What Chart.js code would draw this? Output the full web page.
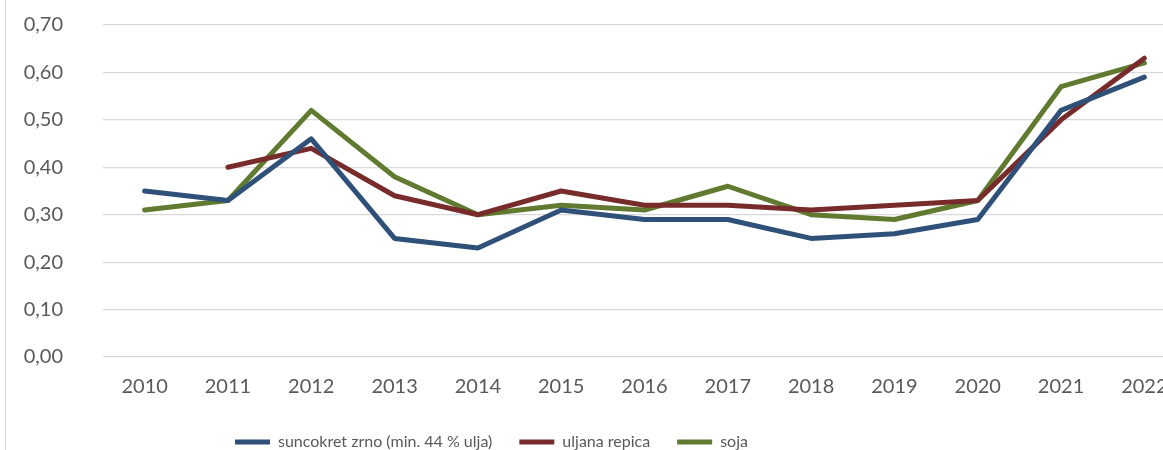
<!DOCTYPE html>
<html>
<head>
<meta charset="utf-8">
<script src="https://cdn.jsdelivr.net/npm/chart.js@4/dist/chart.umd.min.js"></script>
<style>
  html, body { margin: 0; padding: 0; background: #fff; }
  #frame { position: relative; width: 1163px; height: 450px; overflow: hidden; }
  #edge { position: absolute; left: 5px; top: 0; width: 1px; height: 450px; background: #d9d9d9; }
  #chart { position: absolute; left: 0; top: 0; }
</style>
</head>
<body>
<div id="frame">
  <canvas id="chart" width="1186" height="460"></canvas>
  <div id="edge"></div>
</div>
<script>
// years on the x axis
const years = ['2010', '2011', '2012', '2013', '2014', '2015', '2016',
               '2017', '2018', '2019', '2020', '2021', '2022'];

// series values
const suncokret = [0.35, 0.33, 0.46, 0.25, 0.23, 0.31, 0.29, 0.29, 0.25, 0.26, 0.29, 0.52, 0.59];
const repica = [null, 0.40, 0.44, 0.34, 0.30, 0.35, 0.32, 0.32, 0.31, 0.32, 0.33, 0.50, 0.63];
const soja = [0.31, 0.33, 0.52, 0.38, 0.30, 0.32, 0.31, 0.36, 0.30, 0.29, 0.33, 0.57, 0.62];

const seriesNames = ['suncokret zrno (min. 44 % ulja)', 'uljana repica', 'soja'];
const seriesColors = ['#2f5079', '#772b2a', '#607a2f'];

const TEXT = '#595959';
const FONT = 'Lato, "Liberation Sans", Arial, sans-serif';

function line(name, data, color) {
    return {
        label: name,
        data: data,
        borderColor: color,
        backgroundColor: color,
        borderWidth: 5,
        borderCapStyle: 'round',
        borderJoinStyle: 'round',
        pointRadius: 0,
        pointHoverRadius: 0,
        tension: 0,
        fill: false
    };
}

// move the legend so it starts where the reference one does
const legendShift = {
    id: 'legendShift',
    afterLayout(chart) {
        if (chart.legend) chart.legend.left = 208;
    }
};

new Chart(document.getElementById('chart').getContext('2d'), {
    type: 'line',
    data: {
        labels: years,
        datasets: [
            line(seriesNames[0], suncokret, seriesColors[0]),
            line(seriesNames[1], repica, seriesColors[1]),
            line(seriesNames[2], soja, seriesColors[2])
        ]
    },
    options: {
        responsive: false,
        animation: false,
        layout: { padding: { top: 25, left: 0, right: 0, bottom: 0 } },
        plugins: {
            tooltip: { enabled: false },
            legend: {
                position: 'bottom',
                align: 'start',
                labels: {
                    usePointStyle: true,
                    pointStyle: 'line',
                    pointStyleWidth: 35,
                    padding: 27,
                    color: TEXT,
                    font: { family: FONT, size: 16 }
                }
            }
        },
        scales: {
            x: {
                offset: true,
                grid: { display: false },
                border: { display: false },
                ticks: {
                    color: TEXT,
                    padding: 10,
                    maxRotation: 0,
                    font: { family: FONT, size: 20 }
                },
                afterFit(scale) { scale.height = 50; }
            },
            y: {
                min: 0,
                max: 0.7,
                border: { display: false },
                // invisible tick marks push the labels away from the plot
                grid: { color: '#d9d9d9', lineWidth: 1.2, drawTicks: true, tickLength: 38, tickColor: 'rgba(0,0,0,0)' },
                ticks: {
                    stepSize: 0.1,
                    color: TEXT,
                    padding: 2,
                    font: { family: FONT, size: 20 },
                    callback: v => v.toFixed(2).replace('.', ',')
                },
                afterFit(scale) { scale.width = 103; }
            }
        }
    },
    plugins: [legendShift]
});
</script>
</body>
</html>
